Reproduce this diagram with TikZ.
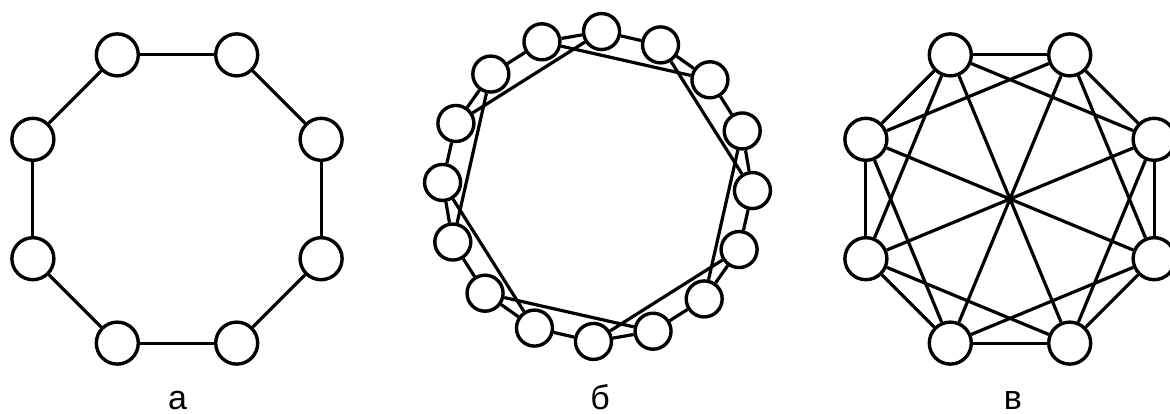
\documentclass[tikz,border=0pt]{standalone}
\usepackage{fontspec}
\setmainfont{Liberation Sans}
\tikzset{
  vert/.style={circle, draw=black, line width=3.4pt, fill=white, minimum size=42pt, inner sep=0pt},
  smallvert/.style={vert, minimum size=36pt},
  link/.style={draw=black, line width=3.2pt},
  figtag/.style={anchor=base, inner sep=0pt, font=\fontsize{34}{40}\selectfont}
}
\begin{document}
\begin{tikzpicture}[x=1pt,y=1pt]
  \useasboundingbox (0,0) rectangle (1170,414);
  % а: ring of 8
  \foreach \k in {0,...,7}
    \node[vert] (a\k) at ([shift={({22.5+45*\k}:156)}]177,215) {};
  \foreach \k in {0,...,7}{
    \pgfmathtruncatemacro\nxt{mod(\k+1,8)}
    \draw[link] (a\k) -- (a\nxt);
  }
  % б: ring of 16 with chords
  \foreach \k in {0,...,15}
    \node[smallvert] (b\k) at ([shift={({-1.5+22.5*\k}:155)}]597.5,227.5) {};
  \foreach \k in {0,...,15}{
    \pgfmathtruncatemacro\nxt{mod(\k+1,16)}
    \draw[link] (b\k) -- (b\nxt);
  }
  \foreach \m in {0,...,7}{
    \pgfmathtruncatemacro\src{2*\m}
    \pgfmathtruncatemacro\dst{mod(2*\m+3,16)}
    \draw[link] (b\src) -- (b\dst);
  }
  % в: 8 nodes, neighbours, second neighbours, diameters
  \foreach \k in {0,...,7}
    \node[vert] (c\k) at ([shift={({22.5+45*\k}:156)}]1010,215) {};
  \foreach \k in {0,...,7}{
    \pgfmathtruncatemacro\nxt{mod(\k+1,8)}
    \pgfmathtruncatemacro\skp{mod(\k+2,8)}
    \draw[link] (c\k) -- (c\nxt);
    \draw[link] (c\k) -- (c\skp);
  }
  \foreach \k in {0,...,3}{
    \pgfmathtruncatemacro\opp{\k+4}
    \draw[link] (c\k) -- (c\opp);
  }
  % captions
  \node[figtag] (capa) at (177.5,4) {а};
  \node[figtag] (capb) at (600,4) {б};
  \node[figtag] (capc) at (1013,4) {в};
\end{tikzpicture}
\end{document}
